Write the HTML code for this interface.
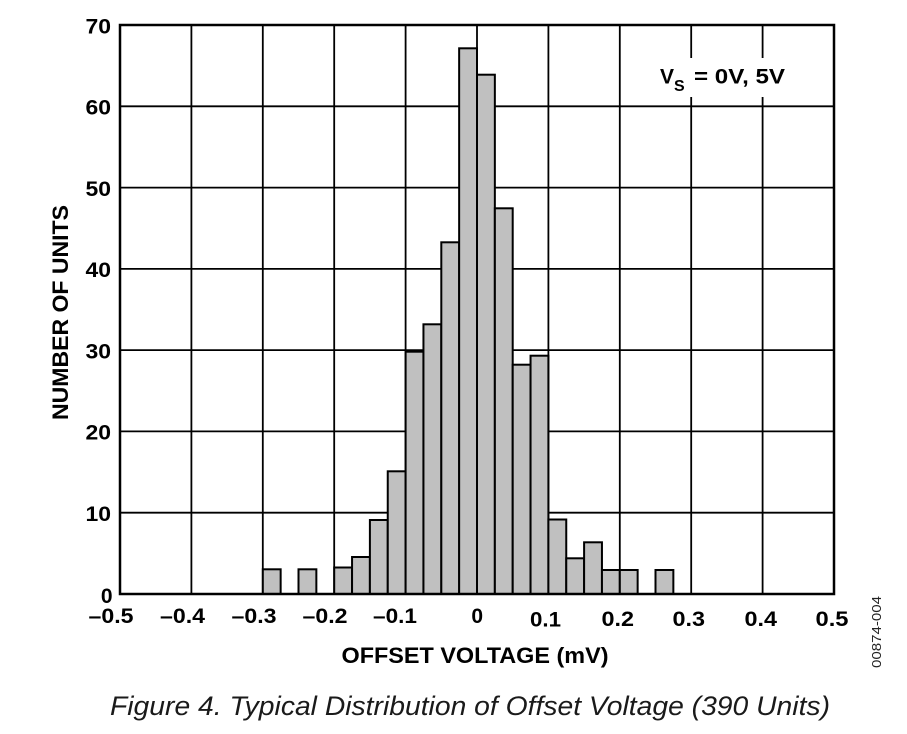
<!DOCTYPE html>
<html>
<head>
<meta charset="utf-8">
<style>
html,body{margin:0;padding:0;background:#fff;}
svg{display:block;}
text{font-family:"Liberation Sans",Arial,sans-serif;}
</style>
</head>
<body>
<svg width="907" height="734" viewBox="0 0 907 734" xmlns="http://www.w3.org/2000/svg">
<rect x="0" y="0" width="907" height="734" fill="#fff"/>
<!-- grid -->
<g stroke="#000" stroke-width="1.8" fill="none">
<line x1="191.4" y1="25" x2="191.4" y2="594"/>
<line x1="262.8" y1="25" x2="262.8" y2="594"/>
<line x1="334.2" y1="25" x2="334.2" y2="594"/>
<line x1="405.6" y1="25" x2="405.6" y2="594"/>
<line x1="477" y1="25" x2="477" y2="594"/>
<line x1="548.4" y1="25" x2="548.4" y2="594"/>
<line x1="619.8" y1="25" x2="619.8" y2="594"/>
<line x1="691.2" y1="25" x2="691.2" y2="594"/>
<line x1="762.6" y1="25" x2="762.6" y2="594"/>
<line x1="120" y1="106.3" x2="834" y2="106.3"/>
<line x1="120" y1="187.6" x2="834" y2="187.6"/>
<line x1="120" y1="268.9" x2="834" y2="268.9"/>
<line x1="120" y1="350.1" x2="834" y2="350.1"/>
<line x1="120" y1="431.4" x2="834" y2="431.4"/>
<line x1="120" y1="512.7" x2="834" y2="512.7"/>
</g>
<!-- bars -->
<g fill="#c0c0c0" stroke="#000" stroke-width="2">
<rect x="262.8" y="569.3" width="17.85" height="24.7"/>
<rect x="298.5" y="569.3" width="17.85" height="24.7"/>
<rect x="334.2" y="567.5" width="17.85" height="26.5"/>
<rect x="352.05" y="557" width="17.85" height="37"/>
<rect x="369.9" y="520" width="17.85" height="74"/>
<rect x="387.75" y="471.3" width="17.85" height="122.7"/>
<rect x="405.6" y="351.7" width="17.85" height="242.3"/>
<rect x="423.45" y="324.3" width="17.85" height="269.7"/>
<rect x="441.3" y="242.3" width="17.85" height="351.7"/>
<rect x="459.15" y="48.3" width="17.85" height="545.7"/>
<rect x="477" y="74.7" width="17.85" height="519.3"/>
<rect x="494.85" y="208.3" width="17.85" height="385.7"/>
<rect x="512.7" y="364.7" width="17.85" height="229.3"/>
<rect x="530.55" y="355.7" width="17.85" height="238.3"/>
<rect x="548.4" y="519.5" width="17.85" height="74.5"/>
<rect x="566.25" y="558.3" width="17.85" height="35.7"/>
<rect x="584.1" y="542.3" width="17.85" height="51.7"/>
<rect x="601.95" y="570" width="17.85" height="24"/>
<rect x="619.8" y="570" width="17.85" height="24"/>
<rect x="655.5" y="570" width="17.85" height="24"/>
</g>
<!-- border -->
<rect x="120" y="25" width="714" height="569" fill="none" stroke="#000" stroke-width="2.5"/>
<!-- V_S label -->
<rect x="655" y="58" width="134" height="39" fill="#fff"/>
<text x="660" y="83.5" font-size="21" font-weight="bold" fill="#000">V</text>
<text x="674" y="91" font-size="16" font-weight="bold" fill="#000">S</text>
<text x="694" y="83.5" font-size="21" font-weight="bold" fill="#000" textLength="91" lengthAdjust="spacingAndGlyphs">= 0V, 5V</text>
<!-- y tick labels -->
<g font-size="21" font-weight="bold" fill="#000" text-anchor="end">
<text x="111" y="33.3" textLength="25.5" lengthAdjust="spacingAndGlyphs">70</text>
<text x="111" y="114.5" textLength="25.5" lengthAdjust="spacingAndGlyphs">60</text>
<text x="111" y="195.8" textLength="25.5" lengthAdjust="spacingAndGlyphs">50</text>
<text x="111" y="277" textLength="25.5" lengthAdjust="spacingAndGlyphs">40</text>
<text x="111" y="358.3" textLength="25.5" lengthAdjust="spacingAndGlyphs">30</text>
<text x="111" y="439.6" textLength="25.5" lengthAdjust="spacingAndGlyphs">20</text>
<text x="111" y="520.9" textLength="25.5" lengthAdjust="spacingAndGlyphs">10</text>
<text x="112.5" y="603">0</text>
</g>
<!-- x tick labels -->
<g font-size="21" font-weight="bold" fill="#000" text-anchor="end">
<text x="133.5" y="623" textLength="45" lengthAdjust="spacingAndGlyphs">–0.5</text>
<text x="205" y="623" textLength="45" lengthAdjust="spacingAndGlyphs">–0.4</text>
<text x="276.5" y="623" textLength="45" lengthAdjust="spacingAndGlyphs">–0.3</text>
<text x="347.5" y="623" textLength="45" lengthAdjust="spacingAndGlyphs">–0.2</text>
<text x="417" y="623" textLength="44" lengthAdjust="spacingAndGlyphs">–0.1</text>
<text x="483" y="623">0</text>
<text x="561" y="626.5" textLength="31" lengthAdjust="spacingAndGlyphs">0.1</text>
<text x="634" y="626" textLength="32.5" lengthAdjust="spacingAndGlyphs">0.2</text>
<text x="705" y="626" textLength="32.5" lengthAdjust="spacingAndGlyphs">0.3</text>
<text x="777" y="626" textLength="32.5" lengthAdjust="spacingAndGlyphs">0.4</text>
<text x="848.5" y="626" textLength="33" lengthAdjust="spacingAndGlyphs">0.5</text>
</g>
<!-- axis titles -->
<text x="341.5" y="663" font-size="22" font-weight="bold" fill="#000" textLength="267" lengthAdjust="spacingAndGlyphs">OFFSET VOLTAGE (mV)</text>
<text transform="translate(68,420) rotate(-90)" x="0" y="0" font-size="22" font-weight="bold" fill="#000" textLength="215" lengthAdjust="spacingAndGlyphs">NUMBER OF UNITS</text>
<!-- figure id -->
<text transform="translate(881,668) rotate(-90)" x="0" y="0" font-size="13" fill="#222" textLength="72" lengthAdjust="spacingAndGlyphs">00874-004</text>
<!-- caption -->
<text x="110" y="715" font-size="27" font-style="italic" fill="#1a1a1a" textLength="720" lengthAdjust="spacingAndGlyphs">Figure 4. Typical Distribution of Offset Voltage (390 Units)</text>
</svg>
</body>
</html>
